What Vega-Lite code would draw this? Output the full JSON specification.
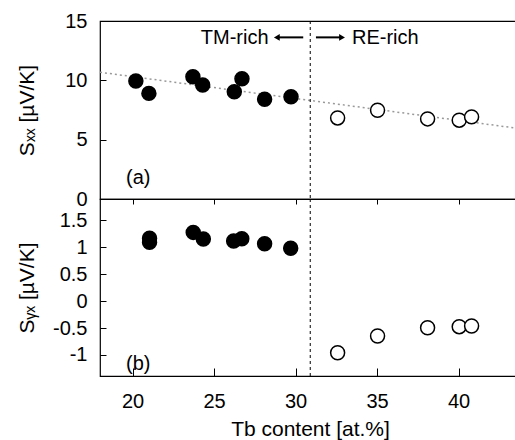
{
  "$schema": "https://vega.github.io/schema/vega-lite/v6.json",
  "padding": {"left": 15, "top": 10, "right": 0, "bottom": 5},
  "spacing": 0,
  "bounds": "flush",
  "background": "white",
  "config": {
    "view": {"stroke": "black", "strokeWidth": 1.2},
    "font": "Liberation Sans",
    "text": {"font": "Liberation Sans"},
    "axis": {
      "labelFont": "Liberation Sans", "labelFontSize": 20, "labelColor": "black", "labelOverlap": false,
      "titleFont": "Liberation Sans", "titleFontSize": 21, "titleFontWeight": "normal", "titleColor": "black",
      "domain": false, "grid": false, "tickColor": "black", "tickWidth": 1
    }
  },
  "datasets": {
    "sxx": [
      {"tb": 20.2, "s": 9.95, "side": "TM"},
      {"tb": 21.0, "s": 8.9, "side": "TM"},
      {"tb": 23.7, "s": 10.3, "side": "TM"},
      {"tb": 24.3, "s": 9.6, "side": "TM"},
      {"tb": 26.24, "s": 9.04, "side": "TM"},
      {"tb": 26.71, "s": 10.13, "side": "TM"},
      {"tb": 28.1, "s": 8.4, "side": "TM"},
      {"tb": 29.72, "s": 8.62, "side": "TM"},
      {"tb": 32.58, "s": 6.83, "side": "RE"},
      {"tb": 35.03, "s": 7.48, "side": "RE"},
      {"tb": 38.1, "s": 6.75, "side": "RE"},
      {"tb": 40.04, "s": 6.64, "side": "RE"},
      {"tb": 40.8, "s": 6.92, "side": "RE"}
    ],
    "syx": [
      {"tb": 21.04, "s": 1.167, "side": "TM"},
      {"tb": 21.04, "s": 1.092, "side": "TM"},
      {"tb": 23.72, "s": 1.275, "side": "TM"},
      {"tb": 24.34, "s": 1.152, "side": "TM"},
      {"tb": 26.2, "s": 1.115, "side": "TM"},
      {"tb": 26.7, "s": 1.158, "side": "TM"},
      {"tb": 28.1, "s": 1.065, "side": "TM"},
      {"tb": 29.7, "s": 0.98, "side": "TM"},
      {"tb": 32.58, "s": -0.958, "side": "RE"},
      {"tb": 35.03, "s": -0.648, "side": "RE"},
      {"tb": 38.1, "s": -0.494, "side": "RE"},
      {"tb": 40.04, "s": -0.475, "side": "RE"},
      {"tb": 40.8, "s": -0.462, "side": "RE"}
    ],
    "boundary": [
      {"tb": 30.9}
    ],
    "trend": [
      {"tb": 18.0, "s": 10.68},
      {"tb": 43.77, "s": 5.93}
    ],
    "arrows": [
      {"from": 30.47, "to": 28.9, "s": 13.62, "dir": "left"},
      {"from": 31.25, "to": 32.8, "s": 13.62, "dir": "right"}
    ],
    "heads": [
      {"tb": 28.85, "s": 13.62, "dir": "left"},
      {"tb": 32.85, "s": 13.62, "dir": "right"}
    ],
    "labelLeftSide": [
      {"tb": 28.34, "s": 13.55, "text": "TM-rich"}
    ],
    "labelRightSide": [
      {"tb": 33.46, "s": 13.55, "text": "RE-rich"}
    ],
    "labelA": [
      {"tb": 20.35, "s": 1.77, "text": "(a)"}
    ],
    "labelB": [
      {"tb": 20.35, "s": -1.16, "text": "(b)"}
    ]
  },
  "vconcat": [
    {
      "width": 420,
      "height": 178,
      "layer": [
        {
          "data": {"name": "trend"},
          "mark": {"type": "line", "color": "#999999", "strokeWidth": 1.5, "strokeDash": [2, 3]},
          "encoding": {
            "x": {"field": "tb", "type": "quantitative", "scale": {"domain": [18, 43.77], "nice": false, "zero": false}, "axis": null},
            "y": {"field": "s", "type": "quantitative", "scale": {"domain": [0, 15], "nice": false},
                  "axis": {"title": "Sₓₓ [µV/K]", "values": [0, 5, 10, 15], "labelOverlap": false, "tickSize": -6, "labelPadding": 19, "titleX": -73, "titleBaseline": "middle"}}
          }
        },
        {
          "data": {"name": "boundary"},
          "mark": {"type": "rule", "color": "black", "strokeWidth": 1, "strokeDash": [3, 3]},
          "encoding": {"x": {"field": "tb", "type": "quantitative"}}
        },
        {
          "data": {"name": "sxx"},
          "mark": {"type": "point", "shape": "circle", "size": 195, "filled": true, "stroke": "black", "strokeWidth": 1.5, "opacity": 1},
          "encoding": {
            "x": {"field": "tb", "type": "quantitative"},
            "y": {"field": "s", "type": "quantitative"},
            "fill": {"field": "side", "type": "nominal", "scale": {"domain": ["TM", "RE"], "range": ["black", "white"]}, "legend": null}
          }
        },
        {
          "data": {"name": "arrows"},
          "mark": {"type": "rule", "color": "black", "strokeWidth": 2},
          "encoding": {
            "x": {"field": "from", "type": "quantitative"},
            "x2": {"field": "to"},
            "y": {"field": "s", "type": "quantitative"}
          }
        },
        {
          "data": {"name": "heads"},
          "mark": {"type": "point", "filled": true, "color": "black", "size": 45, "opacity": 1},
          "encoding": {
            "x": {"field": "tb", "type": "quantitative"},
            "y": {"field": "s", "type": "quantitative"},
            "shape": {"field": "dir", "type": "nominal", "scale": {"domain": ["left", "right"], "range": ["triangle-left", "triangle-right"]}, "legend": null}
          }
        },
        {
          "data": {"name": "labelLeftSide"},
          "mark": {"type": "text", "fontSize": 20, "color": "black", "baseline": "middle", "align": "right"},
          "encoding": {
            "x": {"field": "tb", "type": "quantitative"},
            "y": {"field": "s", "type": "quantitative"},
            "text": {"field": "text"}
          }
        },
        {
          "data": {"name": "labelRightSide"},
          "mark": {"type": "text", "fontSize": 20, "color": "black", "baseline": "middle", "align": "left"},
          "encoding": {
            "x": {"field": "tb", "type": "quantitative"},
            "y": {"field": "s", "type": "quantitative"},
            "text": {"field": "text"}
          }
        },
        {
          "data": {"name": "labelA"},
          "mark": {"type": "text", "fontSize": 20, "color": "black", "baseline": "middle", "align": "center"},
          "encoding": {
            "x": {"field": "tb", "type": "quantitative"},
            "y": {"field": "s", "type": "quantitative"},
            "text": {"field": "text"}
          }
        }
      ]
    },
    {
      "width": 420,
      "height": 177,
      "layer": [
        {
          "data": {"name": "boundary"},
          "mark": {"type": "rule", "color": "black", "strokeWidth": 1, "strokeDash": [3, 3]},
          "encoding": {
            "x": {"field": "tb", "type": "quantitative", "scale": {"domain": [18, 43.77], "nice": false, "zero": false}, "axis": null}
          }
        },
        {
          "data": {"name": "syx"},
          "mark": {"type": "point", "shape": "circle", "size": 195, "filled": true, "stroke": "black", "strokeWidth": 1.5, "opacity": 1},
          "encoding": {
            "x": {"field": "tb", "type": "quantitative",
                  "axis": {"orient": "bottom", "title": "Tb content [at.%]", "values": [20, 25, 30, 35, 40], "labelOverlap": false, "tickSize": -8, "labelPadding": 23, "titleY": 53, "titleBaseline": "middle"}},
            "y": {"field": "s", "type": "quantitative", "scale": {"domain": [-1.39, 1.895], "nice": false, "zero": false},
                  "axis": {"title": "Sᵧₓ [µV/K]", "values": [-1, -0.5, 0, 0.5, 1, 1.5], "labelOverlap": false, "labelExpr": "datum.value + ''", "tickSize": -6, "labelPadding": 19, "titleX": -73, "titleBaseline": "middle"}},
            "fill": {"field": "side", "type": "nominal", "scale": {"domain": ["TM", "RE"], "range": ["black", "white"]}, "legend": null}
          }
        },
        {
          "data": {"name": "labelB"},
          "mark": {"type": "text", "fontSize": 20, "color": "black", "baseline": "middle", "align": "center"},
          "encoding": {
            "x": {"field": "tb", "type": "quantitative",
                  "axis": {"orient": "top", "labels": false, "title": null, "values": [20, 25, 30, 35, 40], "tickSize": -5}},
            "y": {"field": "s", "type": "quantitative",
                  "axis": {"title": "Sᵧₓ [µV/K]", "values": [-1, -0.5, 0, 0.5, 1, 1.5], "labelOverlap": false, "labelExpr": "datum.value + ''", "tickSize": -6, "labelPadding": 19, "titleX": -73, "titleBaseline": "middle"}},
            "text": {"field": "text"}
          }
        }
      ],
      "resolve": {"axis": {"x": "independent"}}
    }
  ]
}
